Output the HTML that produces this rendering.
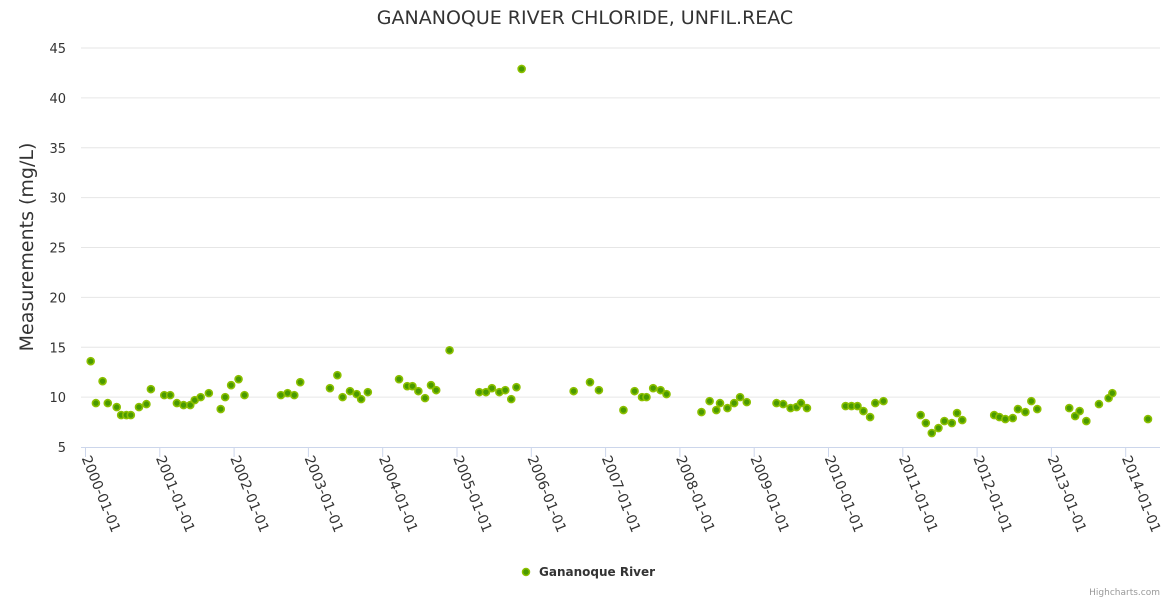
<!DOCTYPE html>
<html><head><meta charset="utf-8"><style>
body{margin:0;background:#fff;font-family:"DejaVu Sans","Liberation Sans",sans-serif;}
svg text{font-family:"DejaVu Sans","Liberation Sans",sans-serif;}
</style></head><body>
<svg id="chart" width="1170" height="600" xmlns="http://www.w3.org/2000/svg">
<text x="585" y="24" text-anchor="middle" font-size="19" fill="#333">GANANOQUE RIVER CHLORIDE, UNFIL.REAC</text>
<text transform="translate(33,247) rotate(-90)" text-anchor="middle" font-size="19" fill="#333">Measurements (mg/L)</text>
<g id="grid"></g><g id="xaxis"></g><g id="pts"></g>
<g>
<circle cx="526" cy="572" r="3.5" fill="#4a9a00" stroke="#8cc000" stroke-width="1.5"/>
<text x="539" y="576" font-size="12" font-weight="bold" fill="#333">Gananoque River</text></g>
<text x="1160" y="595" text-anchor="end" font-size="9" fill="#999">Highcharts.com</text>
</svg>
<script>
const years=[2000.07,2000.14,2000.23,2000.30,2000.42,2000.48,2000.55,2000.61,2000.72,2000.82,2000.88,2001.06,2001.14,2001.23,2001.32,2001.41,2001.47,2001.55,2001.66,2001.82,2001.88,2001.96,2002.06,2002.14,2002.63,2002.72,2002.81,2002.89,2003.29,2003.39,2003.46,2003.56,2003.65,2003.71,2003.80,2004.22,2004.33,2004.40,2004.48,2004.57,2004.65,2004.72,2004.90,2005.30,2005.39,2005.47,2005.57,2005.65,2005.73,2005.80,2005.87,2006.57,2006.79,2006.91,2007.24,2007.39,2007.49,2007.55,2007.64,2007.74,2007.82,2008.29,2008.40,2008.49,2008.54,2008.64,2008.73,2008.81,2008.90,2009.30,2009.39,2009.49,2009.57,2009.63,2009.71,2010.23,2010.31,2010.39,2010.47,2010.56,2010.63,2010.74,2011.24,2011.31,2011.39,2011.48,2011.56,2011.66,2011.73,2011.80,2012.23,2012.30,2012.38,2012.48,2012.55,2012.65,2012.73,2012.81,2013.24,2013.32,2013.38,2013.47,2013.64,2013.77,2013.82,2014.30];
const values=[13.6,9.4,11.6,9.4,9.0,8.2,8.2,8.2,9.0,9.3,10.8,10.2,10.2,9.4,9.2,9.2,9.7,10.0,10.4,8.8,10.0,11.2,11.8,10.2,10.2,10.4,10.2,11.5,10.9,12.2,10.0,10.6,10.3,9.8,10.5,11.8,11.1,11.1,10.6,9.9,11.2,10.7,14.7,10.5,10.5,10.9,10.5,10.7,9.8,11.0,42.9,10.6,11.5,10.7,8.7,10.6,10.0,10.0,10.9,10.7,10.3,8.5,9.6,8.7,9.4,8.9,9.4,10.0,9.5,9.4,9.3,8.9,9.0,9.4,8.9,9.1,9.1,9.1,8.6,8.0,9.4,9.6,8.2,7.4,6.4,6.9,7.6,7.4,8.4,7.7,8.2,8.0,7.8,7.9,8.8,8.5,9.6,8.8,8.9,8.1,8.6,7.6,9.3,9.9,10.4,7.8];
const yTicks=[5,10,15,20,25,30,35,40,45];
const xTickYears=[2000,2001,2002,2003,2004,2005,2006,2007,2008,2009,2010,2011,2012,2013,2014];
const xTickLabels=["2000-01-01","2001-01-01","2002-01-01","2003-01-01","2004-01-01","2005-01-01","2006-01-01","2007-01-01","2008-01-01","2009-01-01","2010-01-01","2011-01-01","2012-01-01","2013-01-01","2014-01-01"];
const NS="http://www.w3.org/2000/svg";
const xS=y=>85.5+(y-2000)*74.3;
const yS=v=>447-(v-5)*(399/40);
function mk(t,a,p){const e=document.createElementNS(NS,t);for(const k in a)e.setAttribute(k,a[k]);p.appendChild(e);return e;}
const grid=document.getElementById('grid');
yTicks.forEach(v=>{
  if(v>5){const l=mk('line',{x1:81,x2:1160,y1:yS(v),y2:yS(v),stroke:'#e6e6e6','stroke-width':1},grid);
  
  }
  const t=mk('text',{x:66,y:yS(v)+5,'text-anchor':'end','font-size':13,fill:'#333'},grid);
  t.textContent=v;
  
  
});
const xa=document.getElementById('xaxis');
const ax=mk('line',{x1:81,x2:1160,y1:447.5,y2:447.5,stroke:'#ccd6eb','stroke-width':1},xa);


xTickYears.forEach((yr,i)=>{
  const x=xS(yr);
  const tk=mk('line',{x1:x,x2:x,y1:447,y2:457,stroke:'#ccd6eb'},xa);
  
  
  const t=mk('text',{transform:`translate(${x-4},${458}) rotate(68)`,'font-size':14,fill:'#333'},xa);
  t.textContent=xTickLabels[i];
  
  
});
const pts=document.getElementById('pts');
years.forEach((yr,i)=>{
  const c=mk('circle',{cx:xS(yr),cy:yS(values[i]),r:3.5,fill:'#4a9a00',stroke:'#8cc000','stroke-width':1.6},pts);
  
  
});
</script>
</body></html>
